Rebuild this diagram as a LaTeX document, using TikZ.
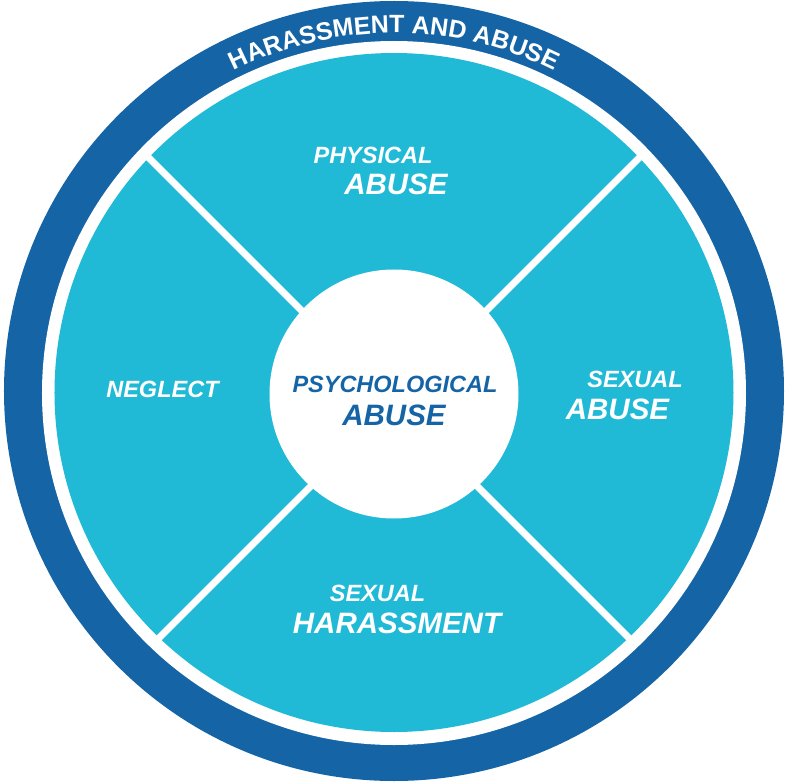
\documentclass[tikz,border=0pt]{standalone}
\usepackage{fontspec}
\setmainfont{Liberation Sans}
\usetikzlibrary{decorations.text}
\definecolor{darkblue}{HTML}{1564A6}
\definecolor{lightblue}{HTML}{20BAD7}
\begin{document}
\begin{tikzpicture}[x=1pt,y=1pt,
  small/.style={text=white,font=\fontsize{23.5}{24}\selectfont\bfseries\itshape,anchor=base,inner sep=0pt},
  big/.style={text=white,font=\fontsize{29.5}{30}\selectfont\bfseries\itshape,anchor=base,inner sep=0pt},
  divider/.style={draw=white,line width=7pt}]
\useasboundingbox (-394,-391) rectangle (396,391);
% rings
\fill[darkblue] (0,0) circle[radius=390pt];
\fill[white] (0,-2) circle[radius=352pt];
\fill[lightblue] (0,-1.5) circle[radius=339.5pt];
% dividers
\begin{scope}
\clip (0,-1.5) circle[radius=346pt];
\coordinate (ul) at (-400,388);
\coordinate (lr) at (400,-412);
\coordinate (ll) at (-400,-412);
\coordinate (ur) at (400,388);
\draw[divider] (ul) -- (lr);
\draw[divider] (ll) -- (ur);
\end{scope}
% center
\fill[white] (0,-3) circle[radius=124.5pt];
% curved title
\path[decorate,decoration={text along path,text align=center,text color=white,
  text={|\fontsize{25}{25}\selectfont\bfseries|HARASSMENT AND ABUSE}}]
  (130:358pt) arc[start angle=130,end angle=50,radius=358pt];
% labels
\node[small] (phys1) at (-21,227) {PHYSICAL};
\node[big] (phys2) at (2,196) {ABUSE};
\node[small,text=darkblue] (psy1) at (1,-1) {PSYCHOLOGICAL};
\node[big,text=darkblue] (psy2) at (0,-34) {ABUSE};
\node[small] (negl) at (-231.5,-6) {NEGLECT};
\node[small] (sex1) at (241,4) {SEXUAL};
\node[big] (sex2) at (223.5,-28) {ABUSE};
\node[small] (har1) at (-16.5,-210) {SEXUAL};
\node[big] (har2) at (3,-242) {HARASSMENT};
\end{tikzpicture}
\end{document}
